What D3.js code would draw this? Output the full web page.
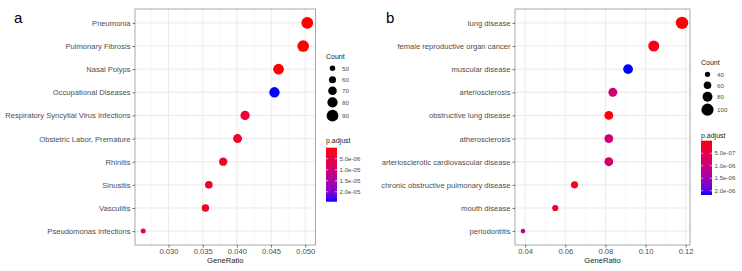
<!DOCTYPE html>
<html>
<head>
<meta charset="utf-8">
<script src="https://cdn.jsdelivr.net/npm/d3@7/dist/d3.min.js"></script>
<style>
  body { margin: 0; background: #fff; }
  text { font-family: "Liberation Sans", Arial, sans-serif; }
</style>
</head>
<body>
<div id="chart"></div>
<script>
// Panel a: DisGeNET-style terms
const termsA = ["Pneumonia", "Pulmonary Fibrosis", "Nasal Polyps", "Occupational Diseases",
  "Respiratory Syncytial Virus Infections", "Obstetric Labor, Premature", "Rhinitis",
  "Sinusitis", "Vasculitis", "Pseudomonas Infections"];
const ratioA = [0.0503, 0.0497, 0.0461, 0.0455, 0.0412, 0.0401, 0.0380, 0.0359, 0.0354, 0.0263];
const countA = [90, 89, 83, 81, 74, 72, 68, 64, 63, 47];
const padjA = [2e-8, 4e-8, 1e-7, 2.45e-5, 3.4e-6, 2.6e-6, 1.6e-6, 2.6e-6, 2.2e-6, 4.4e-6];
const xTicksA = [0.030, 0.035, 0.040, 0.045, 0.050];
const countBreaksA = [50, 60, 70, 80, 90];
const padjBreaksA = [5e-6, 1e-5, 1.5e-5, 2e-5];

// Panel b: DO terms
const termsB = ["lung disease", "female reproductive organ cancer", "muscular disease",
  "arteriosclerosis", "obstructive lung disease", "atherosclerosis",
  "arteriosclerotic cardiovascular disease", "chronic obstructive pulmonary disease",
  "mouth disease", "periodontitis"];
const ratioB = [0.1182, 0.1041, 0.0913, 0.0837, 0.0817, 0.0817, 0.0817, 0.0646, 0.0550, 0.0389];
const countB = [102, 90, 79, 72, 71, 71, 71, 56, 48, 34];
const padjB = [1e-9, 8e-8, 2.17e-6, 8.8e-7, 3e-8, 8.8e-7, 8.8e-7, 1.2e-7, 2.2e-7, 1.0e-6];
const xTicksB = [0.04, 0.06, 0.08, 0.10, 0.12];
const countBreaksB = [40, 60, 80, 100];
const padjBreaksB = [5e-7, 1e-6, 1.5e-6, 2e-6];

const width = 742, height = 271;
const svg = d3.select("#chart").append("svg")
  .attr("width", width).attr("height", height)
  .style("background", "#fff");

const drawPanel = (vars) => {
  const { label, labelX, terms, ratio, count, padj, xTicks, xFmt, countBreaks, padjBreaks,
    left, right, top, bottom, rRange, legendX, countTitleY, countYs, padjTitleY, barTop, barBottom } = vars;
  const g = svg.append("g");

  const rows = terms.map((t, i) => ({ term: t, ratio: ratio[i], count: count[i], padj: padj[i] }));

  // ggplot-like 5% expansion
  const [xmin, xmax] = d3.extent(ratio);
  const pad = (xmax - xmin) * 0.05;
  const xScale = d3.scaleLinear().domain([xmin - pad, xmax + pad]).range([left, right]);
  const yScale = d3.scalePoint().domain(terms).range([top, bottom]).padding(0.6);
  const rScale = d3.scaleLinear().domain(d3.extent(count)).range(rRange);
  const pExt = [0, d3.max(padj)];
  const color = d3.scaleLinear().domain(pExt).range(["red", "blue"]).interpolate(d3.interpolateLab);

  // grid
  const step = xTicks[1] - xTicks[0];
  const minor = d3.range(xTicks[0] - step / 2, xScale.domain()[1], step)
    .filter((v) => v > xScale.domain()[0]);
  g.append("g").selectAll("line").data(minor).join("line")
    .attr("x1", (d) => xScale(d)).attr("x2", (d) => xScale(d))
    .attr("y1", top).attr("y2", bottom)
    .attr("stroke", "#f2f2f2").attr("stroke-width", 0.6);
  g.append("g").selectAll("line").data(xTicks).join("line")
    .attr("x1", (d) => xScale(d)).attr("x2", (d) => xScale(d))
    .attr("y1", top).attr("y2", bottom)
    .attr("stroke", "#e8e8e8").attr("stroke-width", 0.9);
  g.append("g").selectAll("line").data(terms).join("line")
    .attr("x1", left).attr("x2", right)
    .attr("y1", (d) => yScale(d)).attr("y2", (d) => yScale(d))
    .attr("stroke", "#e8e8e8").attr("stroke-width", 0.9);

  // points
  g.append("g").selectAll("circle").data(rows).join("circle")
    .attr("cx", (d) => xScale(d.ratio))
    .attr("cy", (d) => yScale(d.term))
    .attr("r", (d) => rScale(d.count))
    .attr("fill", (d) => color(d.padj));

  // border
  g.append("rect").attr("x", left).attr("y", top)
    .attr("width", right - left).attr("height", bottom - top)
    .attr("fill", "none").attr("stroke", "#a8a8a8").attr("stroke-width", 1);

  // axes
  const xAxis = g.append("g").attr("transform", `translate(0, ${bottom})`)
    .call(d3.axisBottom(xScale).tickValues(xTicks).tickFormat(xFmt).tickSize(2.5).tickPadding(2));
  const yAxis = g.append("g").attr("transform", `translate(${left}, 0)`)
    .call(d3.axisLeft(yScale).tickSize(2.5).tickPadding(2));
  [xAxis, yAxis].forEach((ax) => {
    ax.select(".domain").remove();
    ax.selectAll(".tick line").attr("stroke", "#333").attr("stroke-width", 0.7);
    ax.selectAll("text").attr("fill", "#4d4d4d").style("font-size", "7.6px")
      .style("font-family", "'Liberation Sans', Arial, sans-serif");
  });
  xAxis.selectAll("text").attr("dy", "0.62em");

  g.append("text").attr("x", (left + right) / 2).attr("y", bottom + 17.5)
    .attr("text-anchor", "middle").attr("fill", "#1a1a1a").style("font-size", "7.6px")
    .text("GeneRatio");

  g.append("text").attr("x", labelX).attr("y", 23).attr("fill", "#000")
    .style("font-size", "15px").text(label);

  // size legend
  g.append("text").attr("x", legendX).attr("y", countTitleY + 2.5)
    .style("font-size", "7px").attr("fill", "#1a1a1a").text("Count");
  countBreaks.forEach((c, i) => {
    g.append("circle").attr("cx", legendX + 6.5).attr("cy", countYs[i])
      .attr("r", rScale(c)).attr("fill", "#000");
    g.append("text").attr("x", legendX + 16).attr("y", countYs[i] + 2.2)
      .style("font-size", "6.2px").attr("fill", "#4d4d4d").text(c);
  });

  // colour bar legend (reversed: low p on top)
  g.append("text").attr("x", legendX).attr("y", padjTitleY + 2.5)
    .style("font-size", "7px").attr("fill", "#1a1a1a").text("p.adjust");
  const pY = d3.scaleLinear().domain(pExt).range([barTop, barBottom]);
  const gradId = "grad" + label;
  const grad = svg.append("defs").append("linearGradient").attr("id", gradId)
    .attr("x1", 0).attr("x2", 0).attr("y1", 0).attr("y2", 1);
  d3.range(0, 1.0001, 0.1).forEach((t) => {
    grad.append("stop").attr("offset", t).attr("stop-color", color(pExt[0] + t * (pExt[1] - pExt[0])));
  });
  g.append("rect").attr("x", legendX).attr("y", barTop)
    .attr("width", 11).attr("height", barBottom - barTop).attr("fill", `url(#${gradId})`);
  padjBreaks.forEach((p) => {
    const yy = pY(p);
    g.append("line").attr("x1", legendX).attr("x2", legendX + 2.2).attr("y1", yy).attr("y2", yy)
      .attr("stroke", "#fff").attr("stroke-width", 0.6);
    g.append("line").attr("x1", legendX + 8.8).attr("x2", legendX + 11).attr("y1", yy).attr("y2", yy)
      .attr("stroke", "#fff").attr("stroke-width", 0.6);
    g.append("text").attr("x", legendX + 13.5).attr("y", yy + 2.2)
      .style("font-size", "6.2px").attr("fill", "#4d4d4d")
      .text(d3.format(".1e")(p).replace("e-", "e-0"));
  });
};

drawPanel({
  label: "a", labelX: 14, terms: termsA, ratio: ratioA, count: countA, padj: padjA,
  xTicks: xTicksA, xFmt: d3.format(".3f"), countBreaks: countBreaksA, padjBreaks: padjBreaksA,
  left: 135, right: 315.5, top: 9, bottom: 245, rRange: [2.5, 5.9],
  legendX: 326, countTitleY: 56.7, countYs: [68.3, 79.7, 90.7, 102.3, 115.7],
  padjTitleY: 140.5, barTop: 147.7, barBottom: 201.7,
});

drawPanel({
  label: "b", labelX: 386, terms: termsB, ratio: ratioB, count: countB, padj: padjB,
  xTicks: xTicksB, xFmt: d3.format(".2f"), countBreaks: countBreaksB, padjBreaks: padjBreaksB,
  left: 515, right: 690, top: 9, bottom: 245, rRange: [2.3, 6.2],
  legendX: 701, countTitleY: 62, countYs: [74.3, 85.3, 96.7, 109.7],
  padjTitleY: 135, barTop: 140.7, barBottom: 195,
});
</script>
</body>
</html>
